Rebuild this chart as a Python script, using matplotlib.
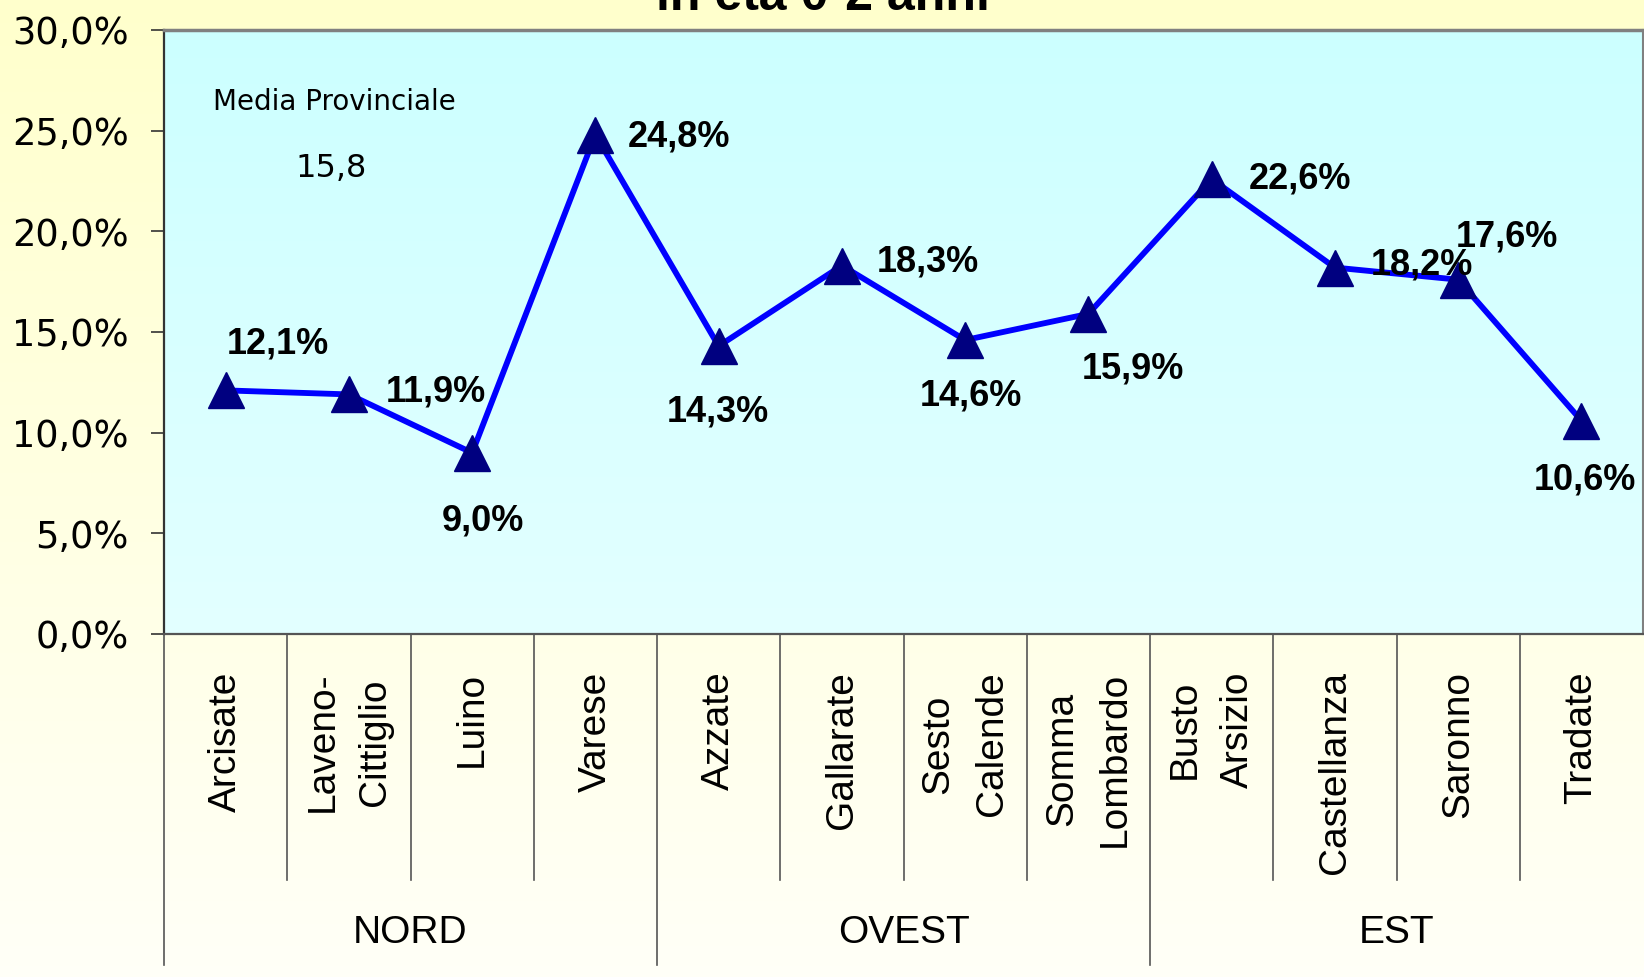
import numpy as np
import matplotlib.pyplot as plt
from matplotlib.transforms import blended_transform_factory

# dati
comuni = ['Arcisate', 'Laveno-\nCittiglio', 'Luino', 'Varese', 'Azzate', 'Gallarate',
          'Sesto\nCalende', 'Somma\nLombardo', 'Busto\nArsizio', 'Castellanza',
          'Saronno', 'Tradate']
zone = ['NORD', 'OVEST', 'EST']
n_per_zona = [4, 4, 4]
valori = [12.1, 11.9, 9.0, 24.8, 14.3, 18.3, 14.6, 15.9, 22.6, 18.2, 17.6, 10.6]
media = 15.8
yticks = [0, 5, 10, 15, 20, 25, 30]

# spostamento delle etichette (pixel)
offset = [(52, 46), (87, 2), (11, -68), (84, -2), (-1, -66), (86, 4),
          (6, -56), (45, -55), (88, 0), (87, 3), (49, 43), (4, -59)]

fig = plt.figure(figsize=(16.44, 9.77), dpi=100)

# sfondo giallo sfumato
bg = fig.add_axes([0, 0, 1, 1])
grad = np.linspace(0, 1, 256).reshape(-1, 1)
top = np.array([1.0, 1.0, 0.80])
bot = np.array([1.0, 1.0, 0.97])
bg.imshow(top + grad[:, :, None] * (bot - top), aspect='auto', extent=[0, 1, 0, 1])
bg.axis('off')

ax = fig.add_axes([164/1644, 1 - 634/977, 1479/1644, 604/977])
n = len(comuni)
x = np.arange(n) + 0.5

# area del grafico sfumata
top2 = np.array([0.80, 1.0, 1.0])
bot2 = np.array([0.89, 1.0, 1.0])
ax.imshow(top2 + grad[:, :, None] * (bot2 - top2), aspect='auto',
          extent=[0, n, 0, 30], zorder=0)

ax.plot(x, valori, color='#0000FF', lw=4.2, zorder=3)
ax.plot(x, valori, ls='none', marker='^', ms=26, color='#000080', zorder=4)

for xi, v, (dx, dy) in zip(x, valori, offset):
    ax.annotate(f'{v:.1f}%'.replace('.', ','), (xi, v), xytext=(dx, dy),
                textcoords='offset pixels', ha='center', va='center',
                fontsize=26, fontweight='bold', family='Liberation Sans', zorder=5)

ax.set_xlim(0, n)
ax.set_ylim(0, 30)
ax.set_yticks(yticks)
ax.set_yticklabels([f'{v:.1f}%'.replace('.', ',') for v in yticks],
                   fontsize=26.5, family='DejaVu Sans')
ax.tick_params(axis='y', length=9.5, width=1.2, pad=16, color='#333333')
ax.set_xticks([])

for s in ['top', 'right']:
    ax.spines[s].set_color('#808080')
ax.spines['top'].set_linewidth(2.5)
ax.spines['right'].set_linewidth(1.5)
ax.spines['left'].set_color('#333333')
ax.spines['left'].set_linewidth(1.6)
ax.spines['bottom'].set_color('#555555')
ax.spines['bottom'].set_linewidth(1.6)

ax.text(0.033, 0.881, 'Media Provinciale', transform=ax.transAxes,
        fontsize=20, family='DejaVu Sans', va='center', ha='left')
ax.text(0.113, 0.77, f'{media:.1f}'.replace('.', ','), transform=ax.transAxes,
        fontsize=23, family='DejaVu Sans', va='center', ha='center')

# asse delle categorie a due livelli
tr = blended_transform_factory(ax.transData, ax.transAxes)
confini = np.cumsum([0] + n_per_zona)[:-1]
for i in range(n):
    y_end = -0.548 if i in confini else -0.4073
    ax.plot([i, i], [0, y_end], transform=tr, clip_on=False, color='#555555', lw=1.2)
    ax.text(x[i], -0.062, comuni[i], transform=tr, rotation=90, ha='center', va='top',
            multialignment='center', fontsize=28, family='Liberation Sans',
            linespacing=1.6)

start = 0
for z, k in zip(zone, n_per_zona):
    ax.text(start + k / 2, -0.495, z, transform=tr, ha='center', va='center',
            fontsize=28, family='Liberation Sans')
    start += k

fig.text(823/1644, 1 - 10/977, 'in età 0-2 anni', ha='center', va='baseline',
         fontsize=36, fontweight='bold', family='Liberation Sans')

fig.savefig('out.png', dpi=100)
